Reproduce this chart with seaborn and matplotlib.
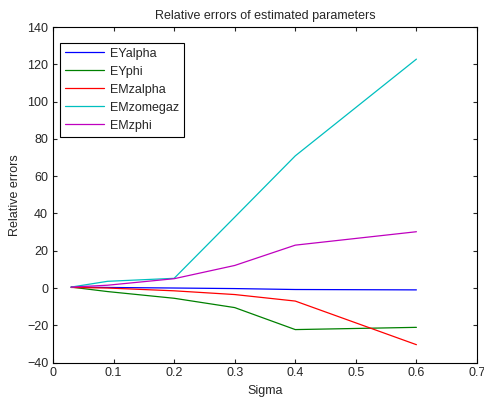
import pandas as pd
import seaborn as sns
import matplotlib
matplotlib.use("Agg")
import matplotlib.pyplot as plt

# Sigma values and relative errors
sigma = [0.03, 0.09, 0.2, 0.3, 0.4, 0.6]
ey_alpha = [0.5, 0.3, 0.0, -0.3, -0.8, -1.0]
ey_phi = [0.5, -1.9, -5.5, -10.5, -22.3, -21.1]
emz_alpha = [0.3, 0.0, -1.5, -3.5, -7.0, -30.4]
emz_omegaz = [0.5, 3.6, 5.2, 38.0, 70.9, 122.8]
emz_phi = [0.5, 1.5, 5.0, 12.1, 23.0, 30.2]

names = ["EYalpha", "EYphi", "EMzalpha", "EMzomegaz", "EMzphi"]
colors = ["#0000ff", "#008000", "#ff0000", "#00bfbf", "#bf00bf"]

series = [ey_alpha, ey_phi, emz_alpha, emz_omegaz, emz_phi]
rows = []
for name, vals in zip(names, series):
    for s, v in zip(sigma, vals):
        rows.append({"Sigma": s, "Error": v, "Series": name})
df = pd.DataFrame(rows)

sns.set_style("ticks")
plt.rcParams["font.family"] = ["Liberation Sans", "DejaVu Sans"]
plt.rcParams["xtick.direction"] = "in"
plt.rcParams["ytick.direction"] = "in"

fig = plt.figure(figsize=(4.84, 3.98), dpi=100)
ax = fig.add_axes([0.1095, 0.089, 0.876, 0.843])

sns.lineplot(data=df, x="Sigma", y="Error", hue="Series", hue_order=names,
             palette=colors, linewidth=0.9, ax=ax, sort=False)

ax.set_xlim(0, 0.7)
ax.set_ylim(-40, 140)
ax.set_xticks([0, 0.1, 0.2, 0.3, 0.4, 0.5, 0.6, 0.7])
ax.set_xticklabels(["0", "0.1", "0.2", "0.3", "0.4", "0.5", "0.6", "0.7"])
ax.set_yticks(range(-40, 141, 20))
ax.tick_params(labelsize=9, length=3, width=0.8, top=True, right=True)
for sp in ax.spines.values():
    sp.set_visible(True)
    sp.set_linewidth(0.8)
    sp.set_color("black")

ax.set_title("Relative errors of estimated parameters", fontsize=9)
ax.set_xlabel("Sigma", fontsize=9)
ax.set_ylabel("Relative errors", fontsize=9)

leg = ax.legend(loc="upper left", bbox_to_anchor=(0.017, 0.953), borderaxespad=0,
                fontsize=9, fancybox=False, framealpha=1, edgecolor="black",
                handlelength=3.1, handletextpad=0.45, labelspacing=0.48)
leg.get_frame().set_linewidth(0.8)

fig.savefig("out.png", dpi=100)
